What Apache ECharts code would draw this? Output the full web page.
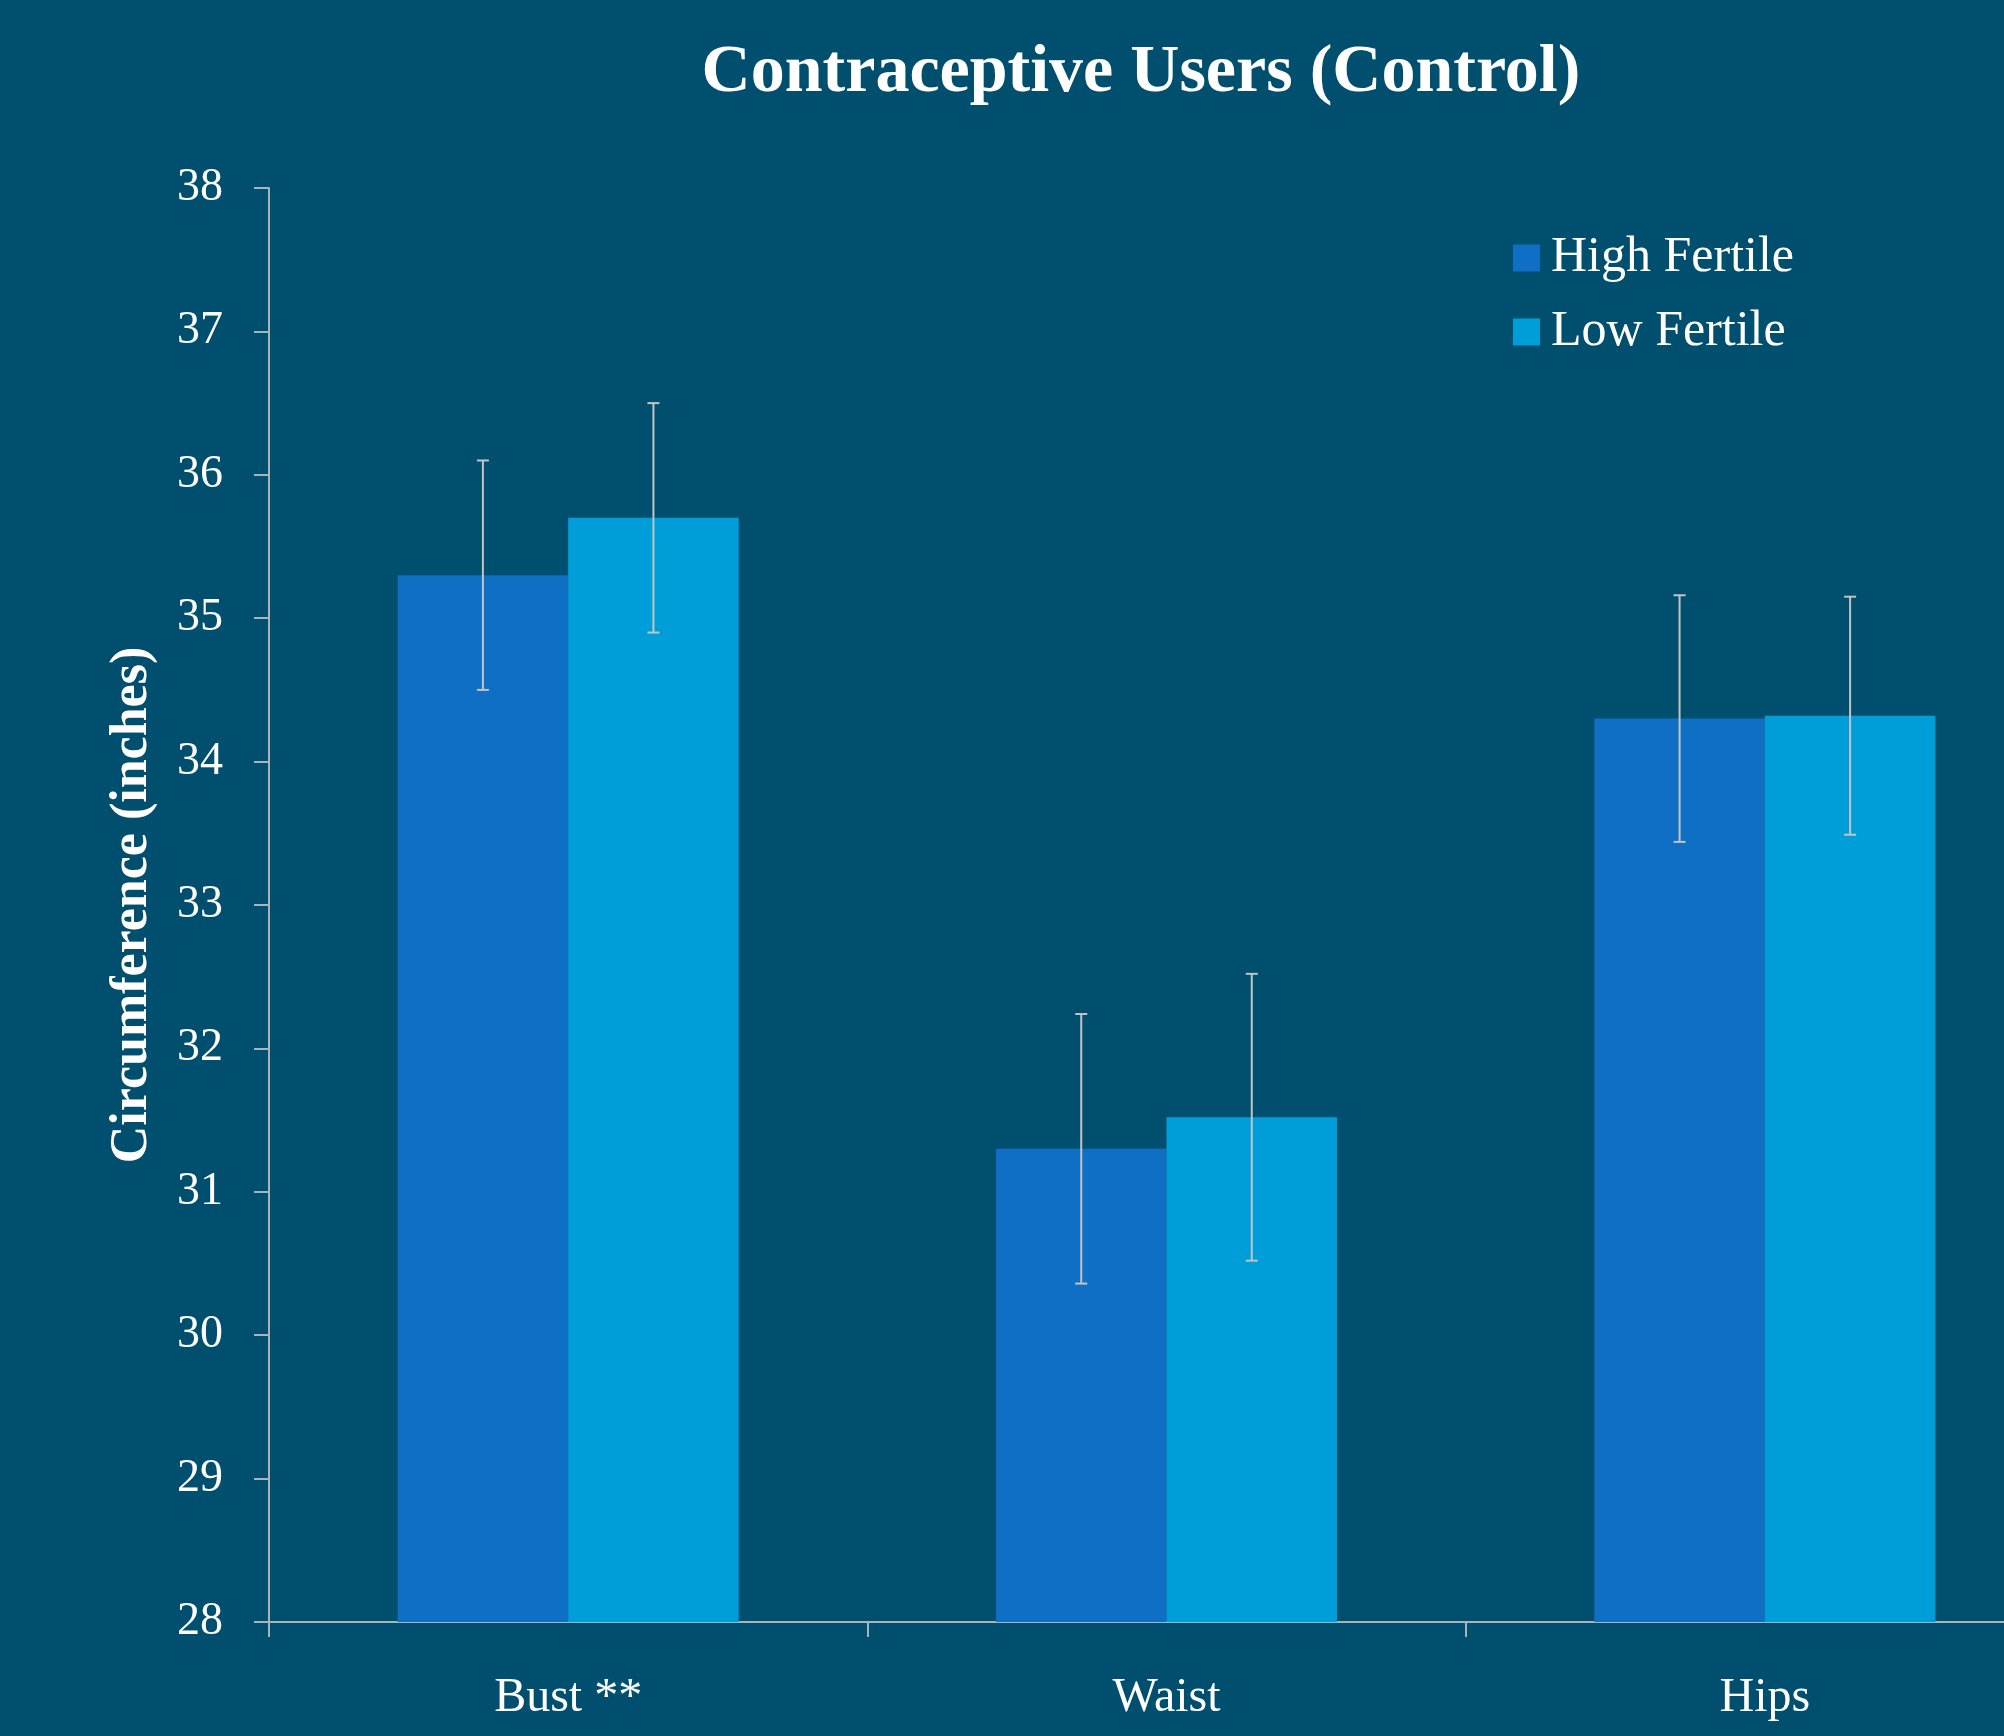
<!DOCTYPE html>
<html>
<head>
<meta charset="utf-8">
<script src="https://cdn.jsdelivr.net/npm/echarts@6/dist/echarts.min.js"></script>
<style>
  html, body { margin: 0; padding: 0; background: #004F6E; }
  #chart { width: 2004px; height: 1736px; }
</style>
</head>
<body>
<div id="chart"></div>
<script>
// values
const categories = ['Bust **', 'Waist', 'Hips'];
const highFertile = [35.3, 31.3, 34.3];
const lowFertile = [35.7, 31.52, 34.32];
const highErr = [0.8, 0.94, 0.86];
const lowErr = [0.8, 1.0, 0.83];
const yTicks = [28, 29, 30, 31, 32, 33, 34, 35, 36, 37, 38];

const FONT = '"Liberation Serif", "DejaVu Serif", serif';
const BAR_SHARE = 0.285; // bar width as share of a category band
const axisColor = '#A9B4BA';

// error bar for one series, offset left (-1) or right (+1) of the band centre
function errorSeries(name, means, errs, side) {
  return {
    type: 'custom',
    name: name + ' err',
    data: means.map((m, i) => [i, m - errs[i], m + errs[i]]),
    z: 10,
    silent: true,
    tooltip: { show: false },
    renderItem: function (params, api) {
      const band = api.size([1, 0])[0];
      const lo = api.coord([api.value(0), api.value(1)]);
      const hi = api.coord([api.value(0), api.value(2)]);
      const x = lo[0] + side * band * BAR_SHARE / 2;
      const cap = 6;
      const style = { stroke: '#C4C4C4', lineWidth: 2 };
      return {
        type: 'group',
        children: [
          { type: 'line', shape: { x1: x, y1: hi[1], x2: x, y2: lo[1] }, style: style },
          { type: 'line', shape: { x1: x - cap, y1: hi[1], x2: x + cap, y2: hi[1] }, style: style },
          { type: 'line', shape: { x1: x - cap, y1: lo[1], x2: x + cap, y2: lo[1] }, style: style }
        ]
      };
    }
  };
}

const chart = echarts.init(document.getElementById('chart'), null, { renderer: 'canvas' });

chart.setOption({
  backgroundColor: '#004F6E',
  animation: false,
  title: {
    text: 'Contraceptive Users (Control)',
    left: 1136,
    top: 34,
    textAlign: 'center',
    textStyle: { fontFamily: FONT, fontSize: 68, fontWeight: 'bold', color: '#FFFFFF' }
  },
  legend: {
    orient: 'vertical',
    left: 1513,
    top: 231,
    padding: 0,
    itemWidth: 27,
    itemHeight: 27,
    itemGap: 20,
    icon: 'rect',
    data: ['High Fertile', 'Low Fertile'],
    textStyle: { fontFamily: FONT, fontSize: 50, lineHeight: 54, color: '#FFFFFF', padding: [0, 0, 0, 6] }
  },
  // the plot runs past the right edge of the picture, as in the reference
  grid: {
    left: 269, top: 188, width: 1795, height: 1434,
    containLabel: false,
    outerBoundsMode: 'none'
  },
  xAxis: {
    type: 'category',
    data: categories,
    boundaryGap: true,
    axisLine: { lineStyle: { color: axisColor, width: 2 } },
    axisTick: { show: true, length: 15, alignWithLabel: false, lineStyle: { color: axisColor, width: 2 } },
    axisLabel: { fontFamily: FONT, fontSize: 48, color: '#FFFFFF', margin: 52 },
    splitLine: { show: false }
  },
  yAxis: {
    type: 'value',
    min: yTicks[0],
    max: yTicks[yTicks.length - 1],
    interval: 1,
    name: 'Circumference (inches)',
    nameLocation: 'middle',
    nameGap: 110,
    nameRotate: 90,
    nameTextStyle: { fontFamily: FONT, fontSize: 52, fontWeight: 'bold', color: '#FFFFFF' },
    axisLine: { show: true, lineStyle: { color: axisColor, width: 2 } },
    axisTick: { show: true, length: 15, lineStyle: { color: axisColor, width: 2 } },
    axisLabel: { fontFamily: FONT, fontSize: 46, color: '#FFFFFF', margin: 46 },
    splitLine: { show: false }
  },
  series: [
    {
      type: 'bar',
      name: 'High Fertile',
      data: highFertile,
      barWidth: (BAR_SHARE * 100) + '%',
      barGap: '0%',
      itemStyle: { color: '#0E6FC5' }
    },
    {
      type: 'bar',
      name: 'Low Fertile',
      data: lowFertile,
      barWidth: (BAR_SHARE * 100) + '%',
      barGap: '0%',
      itemStyle: { color: '#009ED9' }
    },
    errorSeries('High Fertile', highFertile, highErr, -1),
    errorSeries('Low Fertile', lowFertile, lowErr, 1)
  ]
});
</script>
</body>
</html>
